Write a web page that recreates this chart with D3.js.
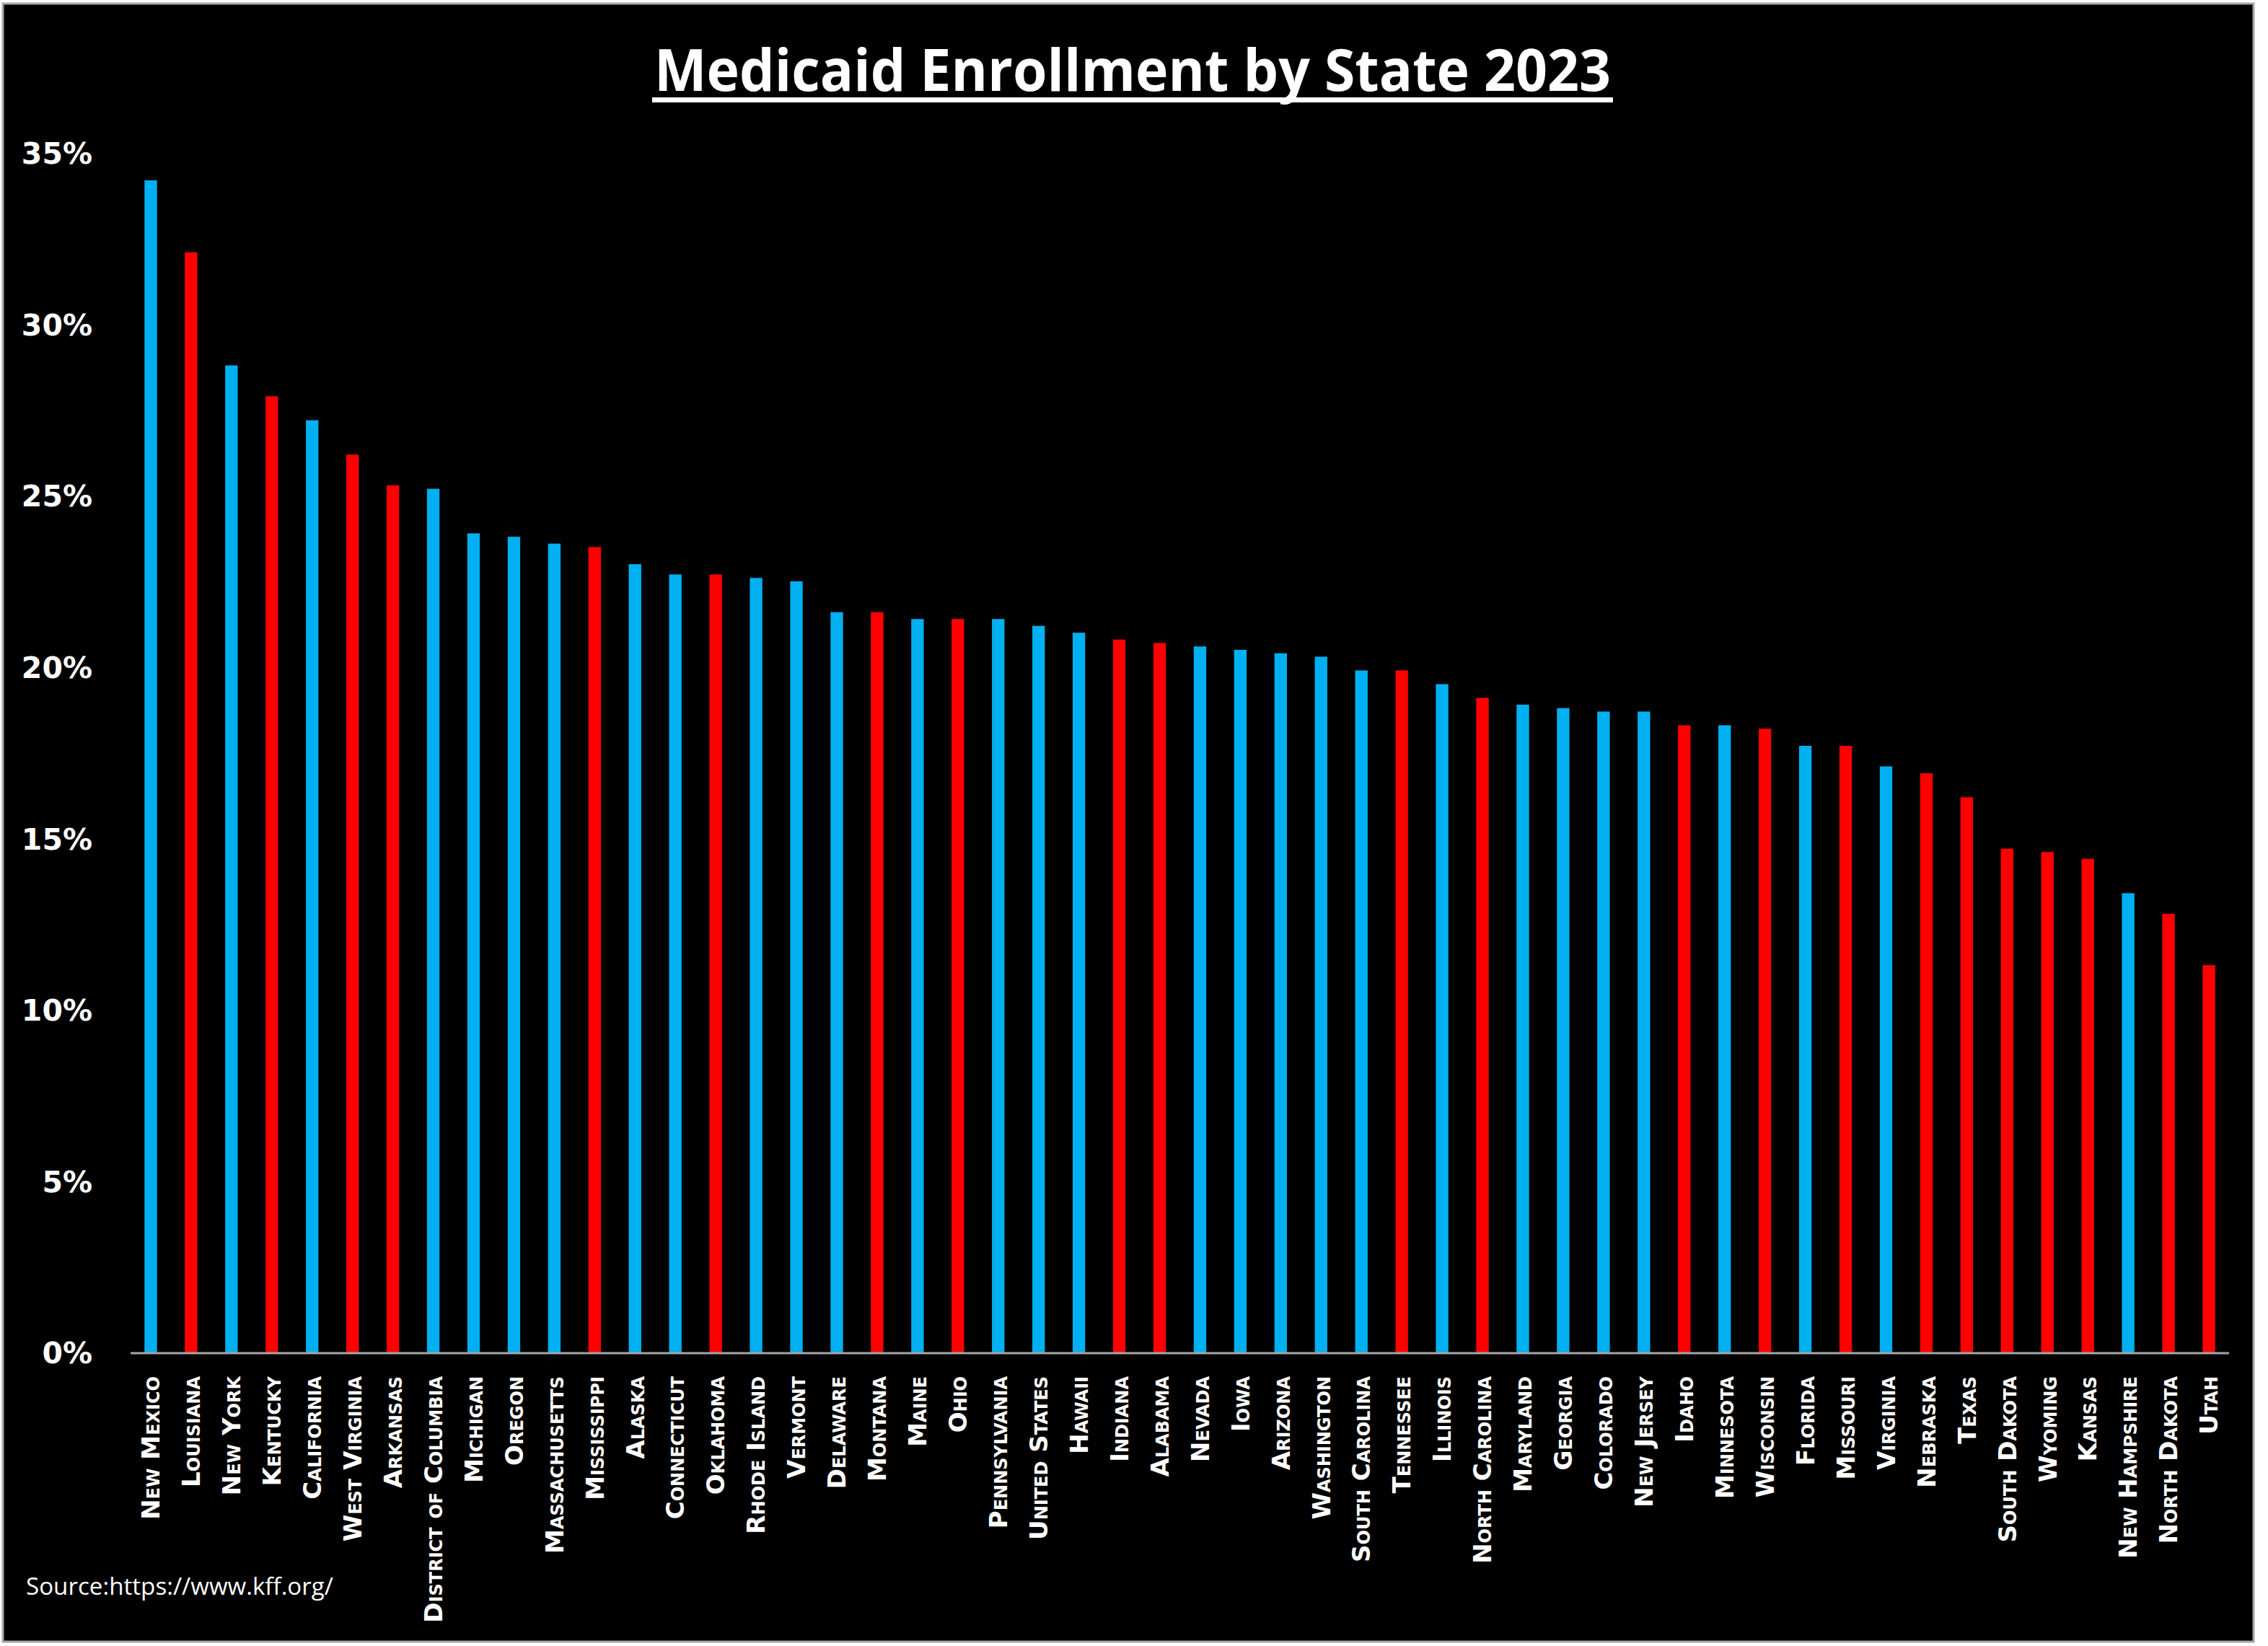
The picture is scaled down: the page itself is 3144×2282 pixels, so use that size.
<!DOCTYPE html>
<html lang="en">
<head>
<meta charset="UTF-8">
<title>Medicaid Enrollment by State 2023</title>
<script src="https://d3js.org/d3.v7.min.js"></script>
<style>
  body { margin: 0; background: #fff; }
  svg { display: block; }
  .tick-y { font-family: "DejaVu Sans", sans-serif; font-weight: bold; font-size: 41px; fill: #fff; }
  .tick-x { font-family: "DejaVu Sans", sans-serif; font-weight: bold; font-size: 34px; font-variant: small-caps; fill: #fff; }
</style>
</head>
<body>
<svg id="chart"></svg>
<script>
// states in chart order, share of population enrolled in Medicaid (%)
const states = [
  "New Mexico", "Louisiana", "New York", "Kentucky", "California", "West Virginia",
  "Arkansas", "District of Columbia", "Michigan", "Oregon", "Massachusetts", "Mississippi",
  "Alaska", "Connecticut", "Oklahoma", "Rhode Island", "Vermont", "Delaware",
  "Montana", "Maine", "Ohio", "Pennsylvania", "United States", "Hawaii",
  "Indiana", "Alabama", "Nevada", "Iowa", "Arizona", "Washington",
  "South Carolina", "Tennessee", "Illinois", "North Carolina", "Maryland", "Georgia",
  "Colorado", "New Jersey", "Idaho", "Minnesota", "Wisconsin", "Florida",
  "Missouri", "Virginia", "Nebraska", "Texas", "South Dakota", "Wyoming",
  "Kansas", "New Hampshire", "North Dakota", "Utah"
];
const enrollment = [
  34.2, 32.1, 28.8, 27.9, 27.2, 26.2,
  25.3, 25.2, 23.9, 23.8, 23.6, 23.5,
  23.0, 22.7, 22.7, 22.6, 22.5, 21.6,
  21.6, 21.4, 21.4, 21.4, 21.2, 21.0,
  20.8, 20.7, 20.6, 20.5, 20.4, 20.3,
  19.9, 19.9, 19.5, 19.1, 18.9, 18.8,
  18.7, 18.7, 18.3, 18.3, 18.2, 17.7,
  17.7, 17.1, 16.9, 16.2, 14.7, 14.6,
  14.4, 13.4, 12.8, 11.3
];
// "B" = blue bar, "R" = red bar
const party = [
  "B","R","B","R","B","R",
  "R","B","B","B","B","R",
  "B","B","R","B","B","B",
  "R","B","R","B","B","B",
  "R","R","B","B","B","B",
  "B","R","B","R","B","B",
  "B","B","R","B","R","B",
  "R","B","R","R","R","R",
  "R","B","R","R"
];
const yTicks = [0, 5, 10, 15, 20, 25, 30, 35];

const W = 3144, H = 2282;
const svg = d3.select("#chart").attr("width", W).attr("height", H);

// frame
svg.append("rect")
  .attr("x", 4).attr("y", 5).attr("width", 3120).attr("height", 2271)
  .attr("fill", "#000").attr("stroke", "#a6a6a6").attr("stroke-width", 3);

const x = d3.scaleBand().domain(states).range([181, 3090]).paddingInner(0.69).paddingOuter(0.345);
const y = d3.scaleLinear().domain([0, 35]).range([1875, 212]);
const colour = { B: "#00b0f0", R: "#ff0000" };

// bars
svg.append("g").selectAll("rect")
  .data(states)
  .join("rect")
  .attr("x", d => x(d))
  .attr("width", x.bandwidth())
  .attr("y", (d, i) => y(enrollment[i]))
  .attr("height", (d, i) => y(0) - y(enrollment[i]))
  .attr("fill", (d, i) => colour[party[i]]);

// y axis labels, no line
const yAxis = svg.append("g")
  .attr("transform", "translate(128,0)")
  .call(d3.axisLeft(y).tickValues(yTicks).tickSize(0).tickPadding(0).tickFormat(d => d + "%"));
yAxis.select(".domain").remove();
yAxis.selectAll("text").attr("class", "tick-y").attr("dy", "0.36em");

// x axis
const xAxis = svg.append("g")
  .attr("transform", "translate(0,1876)")
  .call(d3.axisBottom(x).tickSize(0).tickPadding(0));
xAxis.select(".domain").attr("stroke", "#a6a6a6").attr("stroke-width", 3)
  .attr("d", "M181,0H3090");
xAxis.selectAll("text")
  .attr("class", "tick-x")
  .attr("transform", "rotate(-90)")
  .attr("x", -32)
  .attr("y", 0)
  .attr("dy", "0.36em")
  .style("text-anchor", "end");

// title
svg.append("text")
  .attr("x", 1570).attr("y", 126)
  .attr("text-anchor", "middle")
  .attr("textLength", 1326).attr("lengthAdjust", "spacingAndGlyphs")
  .style("font-family", "'Open Sans', sans-serif").style("font-weight", "bold")
  .style("font-size", "80px").style("fill", "#fff")
  .text("Medicaid Enrollment by State 2023");
svg.append("rect")
  .attr("x", 904).attr("y", 135).attr("width", 1332).attr("height", 7)
  .attr("fill", "#fff");

// source
svg.append("text")
  .attr("x", 36).attr("y", 2211)
  .attr("textLength", 426).attr("lengthAdjust", "spacingAndGlyphs")
  .style("font-family", "'Open Sans', sans-serif")
  .style("font-size", "32px").style("fill", "#fff")
  .text("Source:https://www.kff.org/");
</script>
</body>
</html>
